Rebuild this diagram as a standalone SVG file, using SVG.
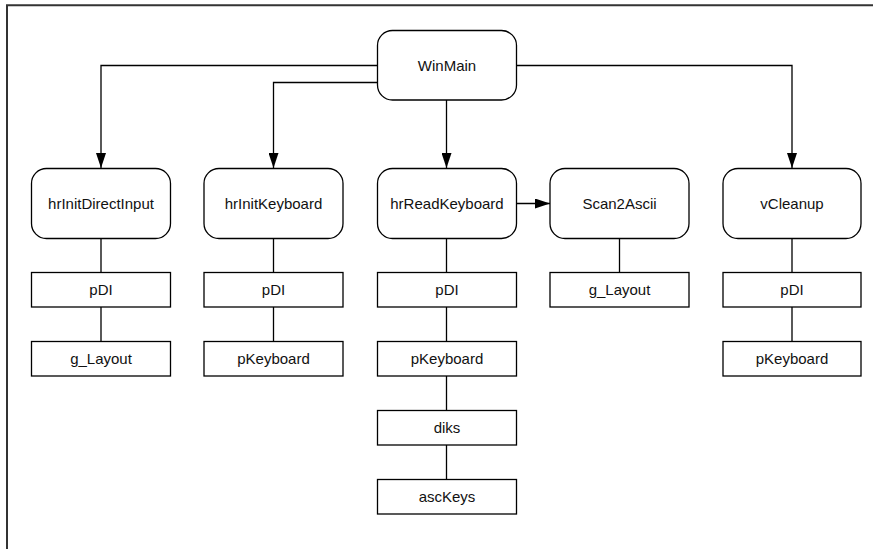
<svg xmlns="http://www.w3.org/2000/svg" width="873" height="549" viewBox="0 0 873 549">
<style>
.n{fill:#fff;stroke:#000;stroke-width:1.3}
.t{font-family:"Liberation Sans",Arial,sans-serif;font-size:15px;fill:#111;text-anchor:middle}
.c{fill:none;stroke:#000;stroke-width:1.3}
</style>
<defs>
<marker id="ah" markerWidth="15" markerHeight="10" refX="15" refY="5" viewBox="0 0 15 10" orient="auto" markerUnits="userSpaceOnUse">
<path d="M0,0 L15,5 L0,10 Z" fill="#000"/>
</marker>
</defs>
<rect width="873" height="549" fill="#fff"/>
<g id="frame"><path d="M7,549 L7,5.3 L873,5.3" fill="none" stroke="#333" stroke-width="2"/></g>
<g id="connectors">
<path class="c" d="M377.5,65.5 H101 V168" marker-end="url(#ah)"/>
<path class="c" d="M377.5,82.5 H273.5 V168" marker-end="url(#ah)"/>
<path class="c" d="M446.5,100 V168" marker-end="url(#ah)"/>
<path class="c" d="M516,65.5 H792 V168" marker-end="url(#ah)"/>
<path class="c" d="M516,203.5 H550" marker-end="url(#ah)"/>
<path class="c" d="M101,238 V272.5 M101,307 V341.5"/>
<path class="c" d="M273.5,238 V272.5 M273.5,307 V341.5"/>
<path class="c" d="M446.5,238 V272.5 M446.5,307 V341.5 M446.5,376 V410.5 M446.5,445 V479.5"/>
<path class="c" d="M619.5,238 V272.5"/>
<path class="c" d="M792,238 V272.5 M792,307 V341.5"/>
</g>
<g id="WinMain"><rect class="n" x="377.5" y="30.5" width="139" height="69.5" rx="15"/><text class="t" x="447" y="70.5">WinMain</text></g>
<g id="hrInitDirectInput"><rect class="n" x="31.5" y="168.5" width="139" height="70" rx="15"/><text class="t" x="101" y="208.5">hrInitDirectInput</text></g>
<g id="hrInitKeyboard"><rect class="n" x="204" y="168.5" width="139" height="70" rx="15"/><text class="t" x="273.5" y="208.5">hrInitKeyboard</text></g>
<g id="hrReadKeyboard"><rect class="n" x="377.5" y="168.5" width="139" height="70" rx="15"/><text class="t" x="447" y="208.5">hrReadKeyboard</text></g>
<g id="Scan2Ascii"><rect class="n" x="550" y="168.5" width="139" height="70" rx="15"/><text class="t" x="619.5" y="208.5">Scan2Ascii</text></g>
<g id="vCleanup"><rect class="n" x="723" y="168.5" width="138" height="70" rx="15"/><text class="t" x="792" y="208.5">vCleanup</text></g>
<g id="pDI1"><rect class="n" x="31.5" y="272.5" width="139" height="34.5"/><text class="t" x="101" y="295">pDI</text></g>
<g id="gLayout1"><rect class="n" x="31.5" y="341.5" width="139" height="34.5"/><text class="t" x="101" y="364">g_Layout</text></g>
<g id="pDI2"><rect class="n" x="204" y="272.5" width="139" height="34.5"/><text class="t" x="273.5" y="295">pDI</text></g>
<g id="pKeyboard2"><rect class="n" x="204" y="341.5" width="139" height="34.5"/><text class="t" x="273.5" y="364">pKeyboard</text></g>
<g id="pDI3"><rect class="n" x="377.5" y="272.5" width="139" height="34.5"/><text class="t" x="447" y="295">pDI</text></g>
<g id="pKeyboard3"><rect class="n" x="377.5" y="341.5" width="139" height="34.5"/><text class="t" x="447" y="364">pKeyboard</text></g>
<g id="diks"><rect class="n" x="377.5" y="410.5" width="139" height="34.5"/><text class="t" x="447" y="433">diks</text></g>
<g id="ascKeys"><rect class="n" x="377.5" y="479.5" width="139" height="34.5"/><text class="t" x="447" y="502">ascKeys</text></g>
<g id="gLayout4"><rect class="n" x="550" y="272.5" width="139" height="34.5"/><text class="t" x="619.5" y="295">g_Layout</text></g>
<g id="pDI5"><rect class="n" x="723" y="272.5" width="138" height="34.5"/><text class="t" x="792" y="295">pDI</text></g>
<g id="pKeyboard5"><rect class="n" x="723" y="341.5" width="138" height="34.5"/><text class="t" x="792" y="364">pKeyboard</text></g>
</svg>
